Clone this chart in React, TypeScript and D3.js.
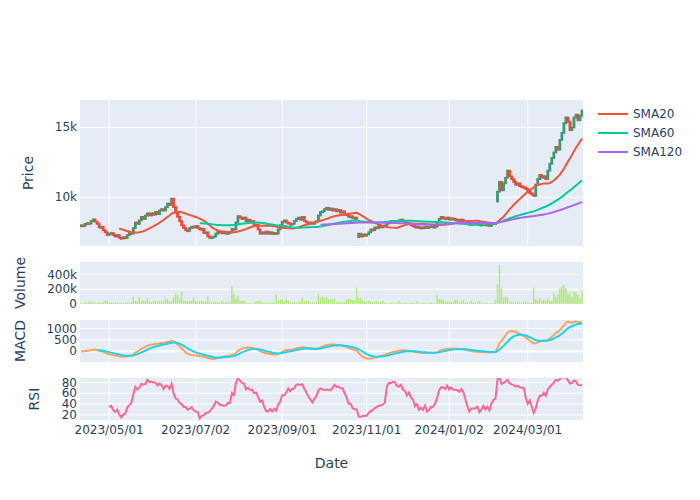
import * as d3 from 'd3';

// Daily closes (one per trading day)
const closes = [
  8000, 7950, 8100, 8150, 8120, 8300, 8420, 8250, 8100, 7850,
  7900, 7650, 7500, 7300, 7400, 7450, 7300, 7200, 7300, 7100,
  7070, 7150, 7100, 7300, 7450, 7400, 7800, 8200, 8100, 8350,
  8600, 8450, 8700, 8850, 8700, 8850, 8750, 8950, 8800, 9050,
  9150, 9050, 9300, 9550, 9450, 9900, 9300, 8900, 8600, 8300,
  8000, 7800, 7650, 7600, 7800, 7900, 7850, 7950, 7800, 7700,
  7750, 7450, 7500, 7200, 7100, 7150, 7200, 7400, 7550, 7500,
  7450, 7500, 7400, 7450, 7500, 7750, 7700, 8200, 8650, 8550,
  8450, 8550, 8300, 8400, 8200, 8300, 7950, 8050, 7700, 7400,
  7500, 7400, 7550, 7400, 7500, 7380, 7450, 7400, 7700, 8000,
  8250, 8350, 8200, 8150, 8050, 8100, 8300, 8450, 8550, 8400,
  8600, 8300, 8200, 8150, 8200, 8100, 8200, 8300, 8700, 8950,
  9000, 9150, 9250, 9100, 9200, 9050, 9150, 9000, 9100, 8900,
  9000, 8750, 8800, 8600, 8650, 8500, 8550, 8400, 7400, 7200,
  7350, 7250, 7350, 7500, 7700, 7650, 7850, 7800, 7950, 7850,
  7950, 8000, 8200, 8150, 8300, 8250, 8300, 8200, 8350, 8400,
  8300, 8200, 8100, 8150, 8000, 7950, 7850, 7900, 7800, 7850,
  7800, 7900, 7800, 7900, 7950, 7850, 7900, 8200, 8450, 8600,
  8500, 8450, 8550, 8400, 8500, 8450, 8350, 8400, 8350, 8400,
  8300, 8200, 8100, 8050, 8100, 8050, 8150, 8100, 8000, 8050,
  8100, 8000, 8050, 7950, 8100, 8150, 8100, 10400, 11100, 10500,
  11000, 11400, 11900, 11500, 11300, 11100, 10900, 11000, 10800, 10750,
  10700, 10600, 10400, 10300, 10200, 10100, 10900, 11300, 11600, 11400,
  11500, 11300, 11900, 12400, 12800, 13200, 13600, 13400, 14100, 14600,
  15300, 15700, 15400, 14800, 15000, 15700, 15900, 15500, 15800, 16200,
];

const opens = [
  7950, 8000, 7950, 8100, 8150, 8120, 8300, 8420, 8250, 8100,
  7850, 7900, 7650, 7500, 7300, 7400, 7450, 7300, 7200, 7300,
  7100, 7070, 7150, 7100, 7300, 7450, 7400, 7800, 8200, 8100,
  8350, 8600, 8450, 8700, 8850, 8700, 8850, 8750, 8950, 8800,
  9050, 9150, 9050, 9300, 9550, 9450, 9900, 9300, 8900, 8600,
  8300, 8000, 7800, 7650, 7600, 7800, 7900, 7850, 7950, 7800,
  7700, 7750, 7450, 7500, 7200, 7100, 7150, 7200, 7400, 7550,
  7500, 7450, 7500, 7400, 7450, 7500, 7750, 7700, 8200, 8650,
  8550, 8450, 8550, 8300, 8400, 8200, 8300, 7950, 8050, 7700,
  7400, 7500, 7400, 7550, 7400, 7500, 7380, 7450, 7400, 7700,
  8000, 8250, 8350, 8200, 8150, 8050, 8100, 8300, 8450, 8550,
  8400, 8600, 8300, 8200, 8150, 8200, 8100, 8200, 8300, 8700,
  8950, 9000, 9150, 9250, 9100, 9200, 9050, 9150, 9000, 9100,
  8900, 9000, 8750, 8800, 8600, 8650, 8500, 8550, 7150, 7400,
  7200, 7350, 7250, 7350, 7500, 7700, 7650, 7850, 7800, 7950,
  7850, 7950, 8000, 8200, 8150, 8300, 8250, 8300, 8200, 8350,
  8400, 8300, 8200, 8100, 8150, 8000, 7950, 7850, 7900, 7800,
  7850, 7800, 7900, 7800, 7900, 7950, 7850, 7900, 8200, 8450,
  8600, 8500, 8450, 8550, 8400, 8500, 8450, 8350, 8400, 8350,
  8400, 8300, 8200, 8100, 8050, 8100, 8050, 8150, 8100, 8000,
  8050, 8100, 8000, 8050, 7950, 8100, 8150, 9700, 10400, 11100,
  10500, 11000, 11400, 11900, 11500, 11300, 11100, 10900, 11000, 10800,
  10750, 10700, 10600, 10400, 10300, 10200, 10100, 10900, 11300, 11600,
  11400, 11500, 11300, 11900, 12400, 12800, 13200, 13600, 13400, 14100,
  14600, 15300, 15700, 15400, 14800, 15000, 15700, 15900, 15500, 15800,
];

// Volume in thousands
const volumesK = [
  15, 10, 20, 15, 30, 25, 30, 20, 15, 25,
  20, 25, 50, 45, 15, 20, 15, 20, 18, 15,
  20, 15, 18, 20, 15, 25, 100, 40, 30, 93,
  40, 45, 35, 75, 30, 25, 35, 30, 35, 40,
  35, 30, 75, 65, 30, 35, 84, 140, 120, 75,
  165, 45, 40, 35, 40, 45, 85, 35, 30, 40,
  35, 30, 35, 97, 30, 25, 20, 30, 25, 20,
  44, 25, 20, 25, 30, 240, 140, 75, 110, 45,
  40, 45, 15, 12, 15, 10, 15, 35, 35, 53,
  20, 18, 20, 15, 20, 18, 20, 130, 40, 65,
  60, 35, 58, 55, 25, 20, 25, 20, 25, 30,
  90, 45, 40, 50, 20, 25, 20, 25, 142, 85,
  100, 80, 97, 65, 60, 70, 75, 25, 30, 25,
  20, 25, 62, 70, 65, 53, 50, 222, 85, 80,
  50, 40, 30, 45, 35, 25, 30, 35, 25, 30,
  45, 15, 12, 10, 15, 12, 10, 15, 40, 12,
  10, 15, 12, 10, 12, 15, 10, 40, 12, 10,
  15, 12, 10, 12, 15, 12, 10, 130, 65, 60,
  65, 30, 35, 30, 25, 30, 62, 55, 20, 25,
  50, 20, 25, 20, 45, 20, 18, 20, 45, 12,
  10, 15, 12, 10, 12, 15, 62, 262, 528, 210,
  85, 97, 90, 25, 30, 20, 25, 30, 25, 20,
  30, 25, 20, 15, 25, 222, 66, 50, 75, 40,
  60, 45, 75, 40, 45, 155, 97, 130, 210, 240,
  262, 210, 142, 155, 97, 173, 164, 120, 75, 186,
];

// x ticks: trading-day index and label
const tickIndex = [14, 57, 100, 142, 183, 222];
const tickLabels = ['2023/05/01', '2023/07/02', '2023/09/01', '2023/11/01', '2024/01/02', '2024/03/01'];

const priceTicks = [10000, 15000];
const volumeTicks = [0, 200000, 400000];
const macdTicks = [0, 500, 1000];
const rsiTicks = [20, 40, 60, 80];

const smaNames = ['SMA20', 'SMA60', 'SMA120'];
const smaPeriods = [20, 60, 120];
const smaColors = ['#EF553B', '#00CC96', '#AB63FA'];

const INC = '#3D9970';
const DEC = '#FF4136';
const FONT = '"DejaVu Sans", Verdana, sans-serif';
const INK = '#2a3f5f';
const BG = '#E5ECF6';

const PL = 80;
const PR = 583;

function sma(period: number): (number | null)[] {
  return closes.map((_, i) => (i < period - 1 ? null : d3.mean(closes.slice(i - period + 1, i + 1)) as number));
}

function ema(values: number[], span: number): number[] {
  const a = 2 / (span + 1);
  const out: number[] = [];
  values.forEach((v, i) => out.push(i === 0 ? v : a * v + (1 - a) * out[i - 1]));
  return out;
}

function rsi(period: number): (number | null)[] {
  const delta = closes.map((c, i) => (i === 0 ? 0 : c - closes[i - 1]));
  return closes.map((_, i) => {
    if (i < period) return null;
    const win = delta.slice(i - period + 1, i + 1);
    const g = d3.mean(win, d => Math.max(d, 0)) as number;
    const l = d3.mean(win, d => Math.max(-d, 0)) as number;
    if (l === 0) return 100;
    return 100 - 100 / (1 + g / l);
  });
}

export default function App() {
  const n = closes.length;
  const x = d3.scaleLinear().domain([-0.5, n - 0.5]).range([PL, PR]);
  const step = x(1) - x(0);

  const yPrice = d3.scaleLinear().domain([6520, 16950]).range([246, 100]);
  const yVol = d3.scaleLinear().domain([0, 568000]).range([304, 262]);
  const yMacd = d3.scaleLinear().domain([-471, 1366]).range([362, 320]);
  const yRsi = d3.scaleLinear().domain([10.5, 88.2]).range([420, 378]);

  const smaSeries = smaPeriods.map(p => sma(p));
  const e12 = ema(closes, 12);
  const e26 = ema(closes, 26);
  const macd = closes.map((_, i) => e12[i] - e26[i]);
  const sig = ema(macd, 9);
  const rsiSeries = rsi(14);

  const line = (y: d3.ScaleLinear<number, number>) =>
    d3.line<number | null>()
      .defined(d => d != null)
      .x((_, i) => x(i))
      .y(d => y(d as number));

  const panel = (
    key: string,
    y: d3.ScaleLinear<number, number>,
    ticks: number[],
    fmt: (v: number) => string,
    title: string,
    titleX: number,
    vgrid: boolean,
    zero: boolean,
  ) => {
    const [y1, y0] = y.range();
    return (
      <g key={key}>
        <rect x={PL} y={y0} width={PR - PL} height={y1 - y0} fill={BG} />
        {vgrid && tickIndex.map(t => (
          <line key={t} x1={x(t)} x2={x(t)} y1={y0} y2={y1} stroke="#fff" strokeWidth={1} />
        ))}
        {ticks.map(t => (
          <line key={t} x1={PL} x2={PR} y1={y(t)} y2={y(t)} stroke="#fff"
            strokeWidth={zero && t === 0 ? 2 : 1} />
        ))}
        {ticks.map(t => (
          <text key={'l' + t} x={77} y={y(t)} dy="0.35em" textAnchor="end"
            fontSize={12} fill={INK} fontFamily={FONT}>{fmt(t)}</text>
        ))}
        <text transform={`translate(${titleX},${(y0 + y1) / 2}) rotate(-90)`} textAnchor="middle"
          fontSize={14} fill={INK} fontFamily={FONT}>{title}</text>
        <clipPath id={'clip-' + key}>
          <rect x={PL} y={y0} width={PR - PL} height={y1 - y0} />
        </clipPath>
      </g>
    );
  };

  const fmtS = d3.format('~s');
  const bw = step * 0.5;

  return (
    <svg width={700} height={500} style={{ position: 'absolute', left: 0, top: 0, background: '#fff' }}>
      {panel('price', yPrice, priceTicks, v => fmtS(v), 'Price', 33, true, false)}
      {panel('volume', yVol, volumeTicks, v => fmtS(v), 'Volume', 25, false, true)}
      {panel('macd', yMacd, macdTicks, v => String(v), 'MACD', 25, true, true)}
      {panel('rsi', yRsi, rsiTicks, v => String(v), 'RSI', 39, true, false)}

      {/* candles */}
      <g clipPath="url(#clip-price)">
        {closes.map((c, i) => {
          const o = opens[i];
          const col = c >= o ? INC : DEC;
          const top = yPrice(Math.max(o, c));
          const h = Math.max(1, Math.abs(yPrice(o) - yPrice(c)));
          return <rect key={i} x={x(i) - bw / 2} y={top} width={bw} height={h}
            fill={col} stroke={col} strokeWidth={1.8} />;
        })}
        {smaSeries.map((s, k) => (
          <path key={k} d={line(yPrice)(s) || ''} fill="none" stroke={smaColors[k]} strokeWidth={2} />
        ))}
      </g>

      {/* volume */}
      <g clipPath="url(#clip-volume)">
        {volumesK.map((v, i) => (
          <rect key={i} x={x(i) - step * 0.4} y={yVol(v * 1000)} width={step * 0.8}
            height={yVol(0) - yVol(v * 1000)} fill="#B6E880" />
        ))}
      </g>

      {/* MACD */}
      <g clipPath="url(#clip-macd)">
        <path d={line(yMacd)(macd) || ''} fill="none" stroke="#FFA15A" strokeWidth={2} />
        <path d={line(yMacd)(sig.map((v, i) => (i < 8 ? null : v))) || ''} fill="none" stroke="#19D3F3" strokeWidth={2} />
      </g>

      {/* RSI */}
      <g clipPath="url(#clip-rsi)">
        <path d={line(yRsi)(rsiSeries) || ''} fill="none" stroke="#FF6692" strokeWidth={2} />
      </g>

      {/* x tick labels */}
      {tickIndex.map((t, k) => (
        <text key={t} x={x(t)} y={434} textAnchor="middle" fontSize={12} fill={INK} fontFamily={FONT}>
          {tickLabels[k]}
        </text>
      ))}
      <text x={(PL + PR) / 2} y={468} textAnchor="middle" fontSize={14} fill={INK} fontFamily={FONT}>Date</text>

      {/* legend */}
      {smaNames.map((name, k) => (
        <g key={name} transform={`translate(598,${114 + k * 19})`}>
          <line x1={0} x2={30} y1={0} y2={0} stroke={smaColors[k]} strokeWidth={2} />
          <text x={35} y={0} dy="0.35em" fontSize={12} fill={INK} fontFamily={FONT}>{name}</text>
        </g>
      ))}
    </svg>
  );
}
